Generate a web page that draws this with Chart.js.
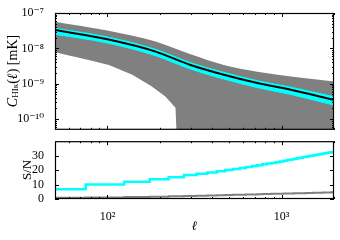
<!DOCTYPE html>
<html>
<head>
<meta charset="utf-8">
<script src="https://cdn.jsdelivr.net/npm/chart.js@4.4.1/dist/chart.umd.min.js"></script>
<style>
  html, body { margin: 0; padding: 0; background: #fff; }
  #wrap { position: relative; width: 340px; height: 240px; }
  canvas { position: absolute; left: 0; }
  #topChart { top: 0; }
  #botChart { top: 131px; }
</style>
</head>
<body>
<div id="wrap">
  <canvas id="topChart" width="340" height="140"></canvas>
  <canvas id="botChart" width="340" height="109"></canvas>
</div>
<script>
"use strict";

// DATA -----------------------
// top panel: gray band (upper / lower edge), cyan band, black line
const ellUpper = [50, 100, 189, 300, 466, 726, 1129, 2000];
const bandUpper = [5.7e-8, 3.2e-8, 1.56e-8, 6.8e-9, 3.4e-9, 2.2e-9, 1.6e-9, 1.16e-9];
const ellLower = [50, 78, 102, 139, 180, 215, 246, 257, 2000];
const bandLower = [7.8e-9, 4.7e-9, 3.4e-9, 1.8e-9, 8.4e-10, 4.4e-10, 2.1e-10, 1e-12, 1e-12];
const ellCurve = [50, 100, 189, 300, 466, 726, 1129, 2000];
const clMean = [3.3e-8, 1.8e-8, 8.1e-9, 3.4e-9, 1.8e-9, 1.05e-9, 6.8e-10, 3.5e-10];
const cyanHi = [3.7e-8, 2.1e-8, 9.4e-9, 3.95e-9, 2.1e-9, 1.22e-9, 8.0e-10, 4.3e-10];
const cyanLo = [2.5e-8, 1.42e-8, 6.2e-9, 2.6e-9, 1.36e-9, 7.8e-10, 5.0e-10, 2.5e-10];

// bottom panel: S/N per ell bin (value holds from the bin edge to the next)
const ellBins = [50, 75, 125, 175, 225, 275, 325, 375, 425, 475, 525, 575, 625, 675,
  725, 775, 825, 875, 925, 975, 1025, 1075, 1125, 1175, 1225, 1275, 1325, 1375,
  1425, 1475, 1525, 1575, 1625, 1675, 1725, 1775, 1825, 1875, 1925, 1975, 2000];
const snCyan = [6.7, 10, 12, 13.6, 15, 16.6, 17.5, 18.4, 19.2, 20.0, 20.7, 21.4, 22.1, 22.8,
  23.4, 24.0, 24.5, 25.0, 25.5, 26.0, 26.5, 27.0, 27.4, 27.8, 28.2, 28.6, 29.0, 29.3,
  29.7, 30.0, 30.3, 30.6, 30.9, 31.2, 31.5, 31.7, 32.0, 32.2, 32.4, 32.6, 32.6];
const snGray = [0.8, 1.1, 1.4, 1.6, 1.9, 2.1, 2.3, 2.45, 2.6, 2.75, 2.9, 3.0, 3.1, 3.2,
  3.3, 3.4, 3.5, 3.55, 3.6, 3.7, 3.75, 3.8, 3.85, 3.9, 3.95, 4.0, 4.05, 4.1,
  4.15, 4.2, 4.25, 4.3, 4.35, 4.4, 4.45, 4.5, 4.5, 4.55, 4.6, 4.6, 4.6];

// ticks
const xMajor = [100, 1000];
const xMinor = [60, 70, 80, 90, 200, 300, 400, 500, 600, 700, 800, 900, 2000];
const yLogMajor = [1e-10, 1e-9, 1e-8, 1e-7];
const yLogMinor = [6e-11, 7e-11, 8e-11, 9e-11, 2e-10, 3e-10, 4e-10, 5e-10, 6e-10, 7e-10, 8e-10, 9e-10,
  2e-9, 3e-9, 4e-9, 5e-9, 6e-9, 7e-9, 8e-9, 9e-9, 2e-8, 3e-8, 4e-8, 5e-8, 6e-8, 7e-8, 8e-8, 9e-8];
const ySnMajor = [0, 10, 20, 30];

const SERIF = "'Liberation Serif', 'DejaVu Serif', serif";
const CYAN = 'rgb(0, 255, 255)';
const GRAY = 'rgb(128, 128, 128)';
const sup = { '0': '⁰', '1': '¹', '2': '²', '3': '³', '4': '⁴', '5': '⁵', '6': '⁶', '7': '⁷', '8': '⁸', '9': '⁹', '-': '⁻' };

function powLabel(v) {
  const e = String(Math.round(Math.log10(v)));
  return '10' + e.split('').map(c => sup[c]).join('');
}

function pts(xs, ys) {
  return xs.map((x, i) => ({ x: x, y: ys[i] }));
}

// PLUGINS -----------------------
// box round the plot area with inward ticks on all four sides
const framePlugin = {
  id: 'frame',
  afterDraw(chart, args, o) {
    const ctx = chart.ctx;
    const a = chart.chartArea;
    const sx = chart.scales.x, sy = chart.scales.y;
    ctx.save();
    ctx.strokeStyle = '#000';
    ctx.lineWidth = 1;
    ctx.beginPath();
    const tickX = (v, len) => {
      const x = Math.round(sx.getPixelForValue(v)) + 0.5;
      ctx.moveTo(x, a.bottom); ctx.lineTo(x, a.bottom - len);
      ctx.moveTo(x, a.top); ctx.lineTo(x, a.top + len);
    };
    const tickY = (v, len) => {
      const y = Math.round(sy.getPixelForValue(v)) + 0.5;
      if (y < a.top || y > a.bottom + 1) return;
      ctx.moveTo(a.left, y); ctx.lineTo(a.left + len, y);
      ctx.moveTo(a.right, y); ctx.lineTo(a.right - len, y);
    };
    o.xMajor.forEach(v => tickX(v, 4));
    o.xMinor.forEach(v => tickX(v, 2));
    o.yMajor.forEach(v => tickY(v, 4));
    (o.yMinor || []).forEach(v => tickY(v, 2));
    ctx.stroke();
    ctx.lineWidth = 1.2;
    ctx.strokeRect(a.left + 0.5, a.top + 0.5, a.right - a.left - 1, a.bottom - a.top - 1);
    ctx.restore();
  }
};

// rotated y title, with subscript parts
const yTitlePlugin = {
  id: 'ytitle',
  afterDraw(chart, args, o) {
    const ctx = chart.ctx;
    ctx.save();
    ctx.translate(o.x, o.y);
    ctx.rotate(-Math.PI / 2);
    ctx.fillStyle = '#000';
    ctx.textBaseline = 'middle';
    let w = 0;
    o.parts.forEach(p => { ctx.font = p.font; w += ctx.measureText(p.text).width; });
    let x = -w / 2;
    o.parts.forEach(p => {
      ctx.font = p.font;
      ctx.fillText(p.text, x, p.dy || 0);
      x += ctx.measureText(p.text).width;
    });
    ctx.restore();
  }
};

// CHARTS -----------------------
const topChart = new Chart(document.getElementById('topChart'), {
  type: 'line',
  data: {
    datasets: [
      { data: pts(ellUpper, bandUpper), borderWidth: 0, pointRadius: 0, backgroundColor: GRAY,
        borderColor: GRAY, fill: '+1', order: 4, cubicInterpolationMode: 'monotone' },
      { data: pts(ellLower, bandLower), borderWidth: 0, pointRadius: 0, borderColor: GRAY,
        fill: false, order: 3 },
      { data: pts(ellCurve, cyanHi), borderWidth: 1, pointRadius: 0, borderColor: CYAN,
        backgroundColor: CYAN, fill: '+1', order: 2, cubicInterpolationMode: 'monotone' },
      { data: pts(ellCurve, cyanLo), borderWidth: 1, pointRadius: 0, borderColor: CYAN,
        fill: false, order: 1, cubicInterpolationMode: 'monotone' },
      { data: pts(ellCurve, clMean), borderWidth: 2, pointRadius: 0, borderColor: '#000',
        fill: false, order: 0, cubicInterpolationMode: 'monotone' }
    ]
  },
  options: {
    responsive: false,
    animation: false,
    devicePixelRatio: 1,
    layout: { padding: { top: 13, right: 6, bottom: 0, left: 0 } },
    plugins: {
      legend: { display: false },
      tooltip: { enabled: false },
      frame: { xMajor: xMajor, xMinor: xMinor, yMajor: yLogMajor, yMinor: yLogMinor },
      ytitle: {
        x: 13, y: 71,
        parts: [
          { text: 'C', font: 'italic 14px ' + SERIF },
          { text: 'HIκ', font: '9px ' + SERIF, dy: 3 },
          { text: '(', font: '14px ' + SERIF },
          { text: 'ℓ', font: 'italic 14px ' + SERIF },
          { text: ') [mK]', font: '14px ' + SERIF }
        ]
      }
    },
    scales: {
      x: {
        type: 'logarithmic', min: 50, max: 2000,
        grid: { display: false }, border: { display: false },
        ticks: { display: false },
        afterFit: s => { s.height = 0; }
      },
      y: {
        type: 'logarithmic', min: 5e-11, max: 1e-7,
        grid: { display: false }, border: { display: false },
        afterBuildTicks: s => { s.ticks = yLogMajor.map(v => ({ value: v })); },
        ticks: { color: '#000', padding: 3, font: { family: SERIF, size: 12 }, callback: v => powLabel(v) },
        afterFit: s => { s.width = 55; }
      }
    }
  },
  plugins: [framePlugin, yTitlePlugin]
});

const botChart = new Chart(document.getElementById('botChart'), {
  type: 'line',
  data: {
    datasets: [
      { data: pts(ellBins, snCyan), borderWidth: 2.5, pointRadius: 0, borderColor: CYAN,
        fill: false, stepped: 'before', order: 0 },
      { data: pts(ellBins, snGray), borderWidth: 2, pointRadius: 0, borderColor: GRAY,
        fill: false, stepped: 'before', order: 1 }
    ]
  },
  options: {
    responsive: false,
    animation: false,
    devicePixelRatio: 1,
    layout: { padding: { top: 0, right: 6, bottom: 0, left: 0 } },
    plugins: {
      legend: { display: false },
      tooltip: { enabled: false },
      frame: { xMajor: xMajor, xMinor: xMinor, yMajor: ySnMajor },
      ytitle: {
        x: 28, y: 39,
        parts: [{ text: 'S/N', font: '13px ' + SERIF }]
      }
    },
    scales: {
      x: {
        type: 'logarithmic', min: 50, max: 2000,
        grid: { display: false }, border: { display: false },
        afterBuildTicks: s => { s.ticks = xMajor.map(v => ({ value: v })); },
        ticks: { color: '#000', padding: 3, maxRotation: 0, font: { family: SERIF, size: 12 }, callback: v => powLabel(v) },
        title: { display: true, text: 'ℓ', color: '#000', font: { family: SERIF, size: 13, style: 'italic' }, padding: { top: 0, bottom: 6 } },
        afterFit: s => { s.height = 41; }
      },
      y: {
        min: 0, max: 40,
        grid: { display: false }, border: { display: false },
        afterBuildTicks: s => { s.ticks = ySnMajor.map(v => ({ value: v })); },
        ticks: { color: '#000', padding: 3, font: { family: SERIF, size: 12 } },
        afterFit: s => { s.width = 55; }
      }
    }
  },
  plugins: [framePlugin, yTitlePlugin]
});
</script>
</body>
</html>
